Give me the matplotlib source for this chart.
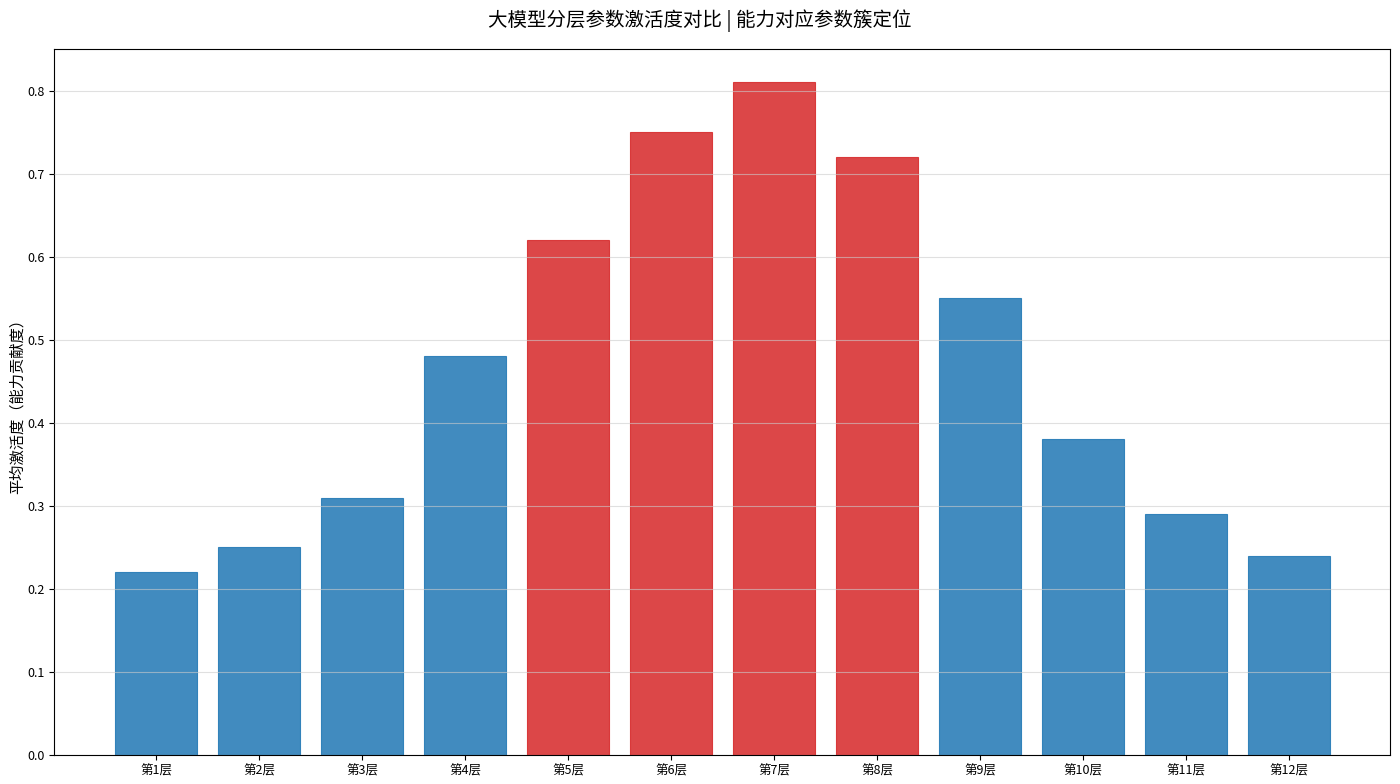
import matplotlib
matplotlib.use("Agg")
import matplotlib.pyplot as plt

plt.rcParams['font.family'] = ['Noto Sans CJK SC', 'DejaVu Sans']
plt.rcParams['axes.unicode_minus'] = False

layers = ["第1层", "第2层", "第3层", "第4层", "第5层", "第6层",
          "第7层", "第8层", "第9层", "第10层", "第11层", "第12层"]
activation = [0.22, 0.25, 0.31, 0.48, 0.62, 0.75, 0.81, 0.72, 0.55, 0.38, 0.29, 0.24]
highlight = [False, False, False, False, True, True, True, True, False, False, False, False]

title = "大模型分层参数激活度对比 | 能力对应参数簇定位"
ylabel = "平均激活度（能力贡献度）"

fig = plt.figure(figsize=(14, 7.84), dpi=100)
ax = fig.add_axes([54/1400, 1 - 755/784, (1390-54)/1400, (755-49)/784])

colors = ['#d62728' if h else '#1f77b4' for h in highlight]
x = list(range(len(layers)))
ax.bar(x, activation, width=0.8, color=colors, alpha=0.85, edgecolor=colors, linewidth=0.8)

ax.set_xticks(x)
ax.set_xticklabels(layers, fontsize=9)
ax.tick_params(axis='y', labelsize=9)
ax.set_xlim(-0.99, 11.98)
ax.set_ylim(0, 0.85)
ax.set_yticks([0.0, 0.1, 0.2, 0.3, 0.4, 0.5, 0.6, 0.7, 0.8])
ax.set_ylabel(ylabel, fontsize=11, labelpad=1)
ax.yaxis.grid(True, color='#cccccc', alpha=0.6, linewidth=0.8)
ax.set_axisbelow(False)
fig.suptitle(title, fontsize=14, y=0.988)

fig.savefig("out.png", dpi=100)
